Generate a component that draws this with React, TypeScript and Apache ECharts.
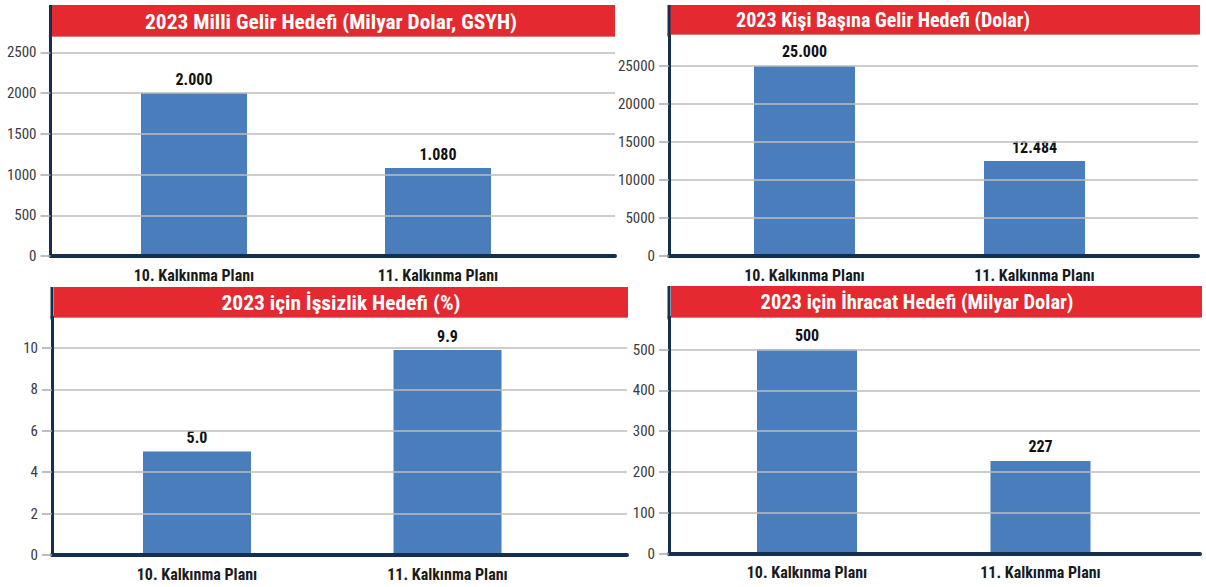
import React, { useEffect, useRef } from "react";
import * as echarts from "echarts";

// ---- data ----
const categories = ["10. Kalkınma Planı", "11. Kalkınma Planı"];
const panelTitles = [
  "2023 Milli Gelir Hedefi (Milyar Dolar, GSYH)",
  "2023 Kişi Başına Gelir Hedefi (Dolar)",
  "2023 için İşsizlik Hedefi (%)",
  "2023 için İhracat Hedefi (Milyar Dolar)",
];
const gdpValues = [2000, 1080];
const perCapitaValues = [25000, 12484];
const unemploymentValues = [5.0, 9.9];
const exportValues = [500, 227];
const gdpTicks = [0, 500, 1000, 1500, 2000, 2500];
const perCapitaTicks = [0, 5000, 10000, 15000, 20000, 25000];
const unemploymentTicks = [0, 2, 4, 6, 8, 10];
const exportTicks = [0, 100, 200, 300, 400, 500];

// ---- styles ----
const RED = "#e42a30";
const BAR = "#4a7dbb";
const NAVY = "#15304e";
const GRID = "#bdbdbd";
const FONT = '"Roboto Condensed", Roboto, sans-serif';
const TITLE_FONT = '"Roboto Condensed"';

type Layout = {
  frame: { left: number; right: number; top: number; bottom: number };
  bars: { left: number; right: number };
  max: number;
  interval: number;
  barWidth: number;
  decimals: number;
  titleBar: { x: number; y: number; w: number; h: number };
  titleX: number;
  titleW: number;
  axisX: number;
};

const W = 1206;
const H = 587;

const layouts: Layout[] = [
  {
    frame: { left: 50.5, right: W - 615, top: 36, bottom: H - 256 },
    bars: { left: 72, right: W - 560 },
    max: 2700, interval: 500, barWidth: 106, decimals: 0,
    titleBar: { x: 52, y: 5, w: 563, h: 31.5 }, titleX: 331, titleW: 372, axisX: 50.5,
  },
  {
    frame: { left: 669, right: W - 1198, top: 34, bottom: H - 256 },
    bars: { left: 689.5, right: W - 1149.5 },
    max: 29200, interval: 5000, barWidth: 101, decimals: 0,
    titleBar: { x: 670, y: 5, w: 530, h: 29.5 }, titleX: 883, titleW: 294, axisX: 669,
  },
  {
    frame: { left: 52, right: W - 627, top: 317, bottom: H - 555 },
    bars: { left: 71.75, right: W - 572.75 },
    max: 11.5, interval: 2, barWidth: 108, decimals: 1,
    titleBar: { x: 54, y: 287, w: 574, h: 30.5 }, titleX: 341, titleW: 239, axisX: 52,
  },
  {
    frame: { left: 669, right: W - 1200, top: 317, bottom: H - 553.5 },
    bars: { left: 690.25, right: W - 1157.25 },
    max: 580, interval: 100, barWidth: 100, decimals: 0,
    titleBar: { x: 671, y: 286, w: 531, h: 31.5 }, titleX: 917, titleW: 313, axisX: 669,
  },
];

const seriesValues = [gdpValues, perCapitaValues, unemploymentValues, exportValues];
const tickValues = [gdpTicks, perCapitaTicks, unemploymentTicks, exportTicks];

function fmt(v: number, decimals: number): string {
  if (decimals > 0) return v.toFixed(decimals);
  return String(Math.round(v)).replace(/\B(?=(\d{3})+(?!\d))/g, ".");
}

function measure(text: string, font: string): number {
  try {
    const c = document.createElement("canvas").getContext("2d");
    if (!c) return 0;
    c.font = font;
    return c.measureText(text).width;
  } catch (e) {
    return 0;
  }
}

function buildOption() {
  const grid: any[] = [];
  const xAxis: any[] = [];
  const yAxis: any[] = [];
  const series: any[] = [];
  const graphic: any[] = [];
  const titleSize = 21;

  layouts.forEach((L, i) => {
    const f = 2 * i;
    const b = 2 * i + 1;
    grid.push({ ...L.frame, containLabel: false });
    grid.push({ left: L.bars.left, right: L.bars.right, top: L.frame.top, bottom: L.frame.bottom, containLabel: false });

    xAxis.push({
      gridIndex: f,
      type: "category",
      data: categories,
      axisLine: { show: true, lineStyle: { color: NAVY, width: 4 } },
      axisTick: { show: false },
      axisLabel: { show: false },
      splitLine: { show: false },
      z: 5,
    });
    xAxis.push({
      gridIndex: b,
      type: "category",
      data: categories,
      axisLine: { show: false },
      axisTick: { show: false },
      axisLabel: {
        show: true,
        fontFamily: FONT,
        fontWeight: "bold",
        fontSize: 16,
        color: "#1a1a1a",
        margin: 11,
      },
    });

    yAxis.push({
      gridIndex: f,
      type: "value",
      min: 0,
      max: L.max,
      interval: L.interval,
      axisLine: { show: true, lineStyle: { color: NAVY, width: 3 } },
      axisTick: {
        show: true,
        length: 10,
        lineStyle: { color: "#a8a8a8", width: 1.5 },
      },
      axisLabel: {
        show: true,
        fontFamily: FONT,
        fontSize: 15,
        color: "#3b3b3b",
        margin: 14,
        customValues: tickValues[i],
        formatter: (v: number) => String(v),
      },
      splitLine: { show: true, lineStyle: { color: GRID, width: 1.5 } },
      z: 5,
    });
    yAxis.push({
      gridIndex: b,
      type: "value",
      min: 0,
      max: L.max,
      show: false,
    });

    series.push({
      type: "bar",
      xAxisIndex: b,
      yAxisIndex: b,
      data: seriesValues[i],
      barWidth: L.barWidth,
      itemStyle: { color: BAR },
      z: 3,
      label: {
        show: true,
        position: "top",
        distance: 6,
        fontFamily: FONT,
        fontWeight: "bold",
        fontSize: 16,
        color: "#111",
        formatter: (p: any) => fmt(p.value, L.decimals),
      },
    });

    const mw = measure(panelTitles[i], `bold ${titleSize}px ${TITLE_FONT}`);
    const sx = mw > 0 ? Math.min(1.1, L.titleW / mw) : 0.9;

    graphic.push({
      type: "rect",
      z: 100,
      shape: { x: L.titleBar.x, y: L.titleBar.y, width: L.titleBar.w, height: L.titleBar.h },
      style: { fill: RED },
    });
    graphic.push({
      type: "rect",
      z: 101,
      shape: { x: L.axisX - 1.5, y: L.titleBar.y, width: 3, height: L.titleBar.h + 2 },
      style: { fill: NAVY },
    });
    // hide the extra tick at the axis top (no tick there in the original)
    graphic.push({
      type: "rect",
      z: 101,
      shape: { x: L.axisX - 14, y: L.frame.top - 2.5, width: 12, height: 5 },
      style: { fill: "#ffffff" },
    });
    graphic.push({
      type: "text",
      z: 102,
      x: L.titleX,
      y: L.titleBar.y + L.titleBar.h / 2 + 0.5,
      scaleX: sx,
      style: {
        text: panelTitles[i],
        fill: "#ffffff",
        fontFamily: TITLE_FONT,
        fontWeight: "bold",
        fontSize: titleSize,
        align: "center",
        verticalAlign: "middle",
      },
    });
  });

  return {
    animation: false,
    backgroundColor: "#ffffff",
    grid,
    xAxis,
    yAxis,
    series,
    graphic,
  };
}

export default function App() {
  const ref = useRef<HTMLDivElement>(null);
  useEffect(() => {
    if (!ref.current) return;
    const chart = echarts.init(ref.current, undefined, { renderer: "svg" });
    chart.setOption(buildOption() as any);
    return () => chart.dispose();
  }, []);
  return (
    <div
      ref={ref}
      style={{ position: "absolute", left: 0, top: 0, width: W, height: H, background: "#fff" }}
    />
  );
}
